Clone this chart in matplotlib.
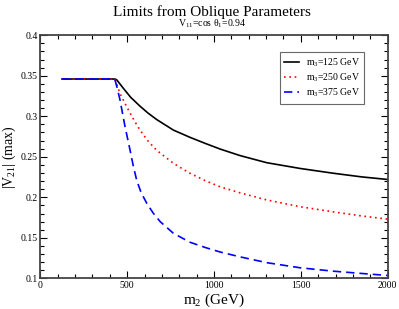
import matplotlib
matplotlib.use("Agg")
import matplotlib.pyplot as plt
from matplotlib.ticker import MultipleLocator

plt.rcParams['font.family'] = ['Liberation Serif', 'DejaVu Serif']
plt.rcParams['mathtext.fontset'] = 'custom'
plt.rcParams['mathtext.rm'] = 'Liberation Serif'
plt.rcParams['mathtext.it'] = 'Liberation Serif:italic'

# data
m_black = [125, 430, 440, 478, 520, 574, 620, 670, 766, 862, 950, 1035, 1150, 1304, 1496, 1687, 1850, 2000]
v_black = [0.346, 0.346, 0.345, 0.3346, 0.3235, 0.3125, 0.304, 0.296, 0.283, 0.274, 0.2665, 0.2596, 0.2515, 0.2427, 0.2356, 0.2297, 0.2252, 0.222]

m_red = [125, 430, 459, 497, 540, 574, 620, 670, 766, 862, 950, 1035, 1150, 1304, 1496, 1687, 1850, 2000]
v_red = [0.346, 0.346, 0.328, 0.312, 0.295, 0.283, 0.2695, 0.258, 0.242, 0.2296, 0.2205, 0.213, 0.2055, 0.1967, 0.1884, 0.182, 0.177, 0.173]

m_blue = [125, 425, 430, 445, 459, 488, 517, 535, 555, 580, 613, 650, 690, 766, 862, 950, 1035, 1150, 1304, 1496, 1687, 1850, 2000]
v_blue = [0.346, 0.346, 0.345, 0.333, 0.320, 0.287, 0.258, 0.239, 0.221, 0.206, 0.1926, 0.1805, 0.170, 0.1556, 0.1445, 0.138, 0.1325, 0.1265, 0.1193, 0.113, 0.1088, 0.106, 0.1035]

labels = ['m$_3$=125 GeV', 'm$_3$=250 GeV', 'm$_3$=375 GeV']
xticks = [0, 500, 1000, 1500, 2000]
xticklabels = ['0', '500', '1000', '1500', '2000']
yticks = [0.1, 0.15, 0.2, 0.25, 0.3, 0.35, 0.4]
yticklabels = ['0.1', '0.15', '0.2', '0.25', '0.3', '0.35', '0.4']

fig = plt.figure(figsize=(3.99, 3.09), dpi=100)
ax = fig.add_axes([0.101, 0.0993, 0.8707, 0.7865])

ax.plot(m_black, v_black, color='black', lw=1.2, label=labels[0])
ax.plot(m_red, v_red, color='red', lw=1.2, ls=(0, (1, 2.2)), label=labels[1])
ax.plot(m_blue, v_blue, color='blue', lw=1.2, ls=(0, (5, 3)), label=labels[2])

ax.set_xlim(0, 2000)
ax.set_ylim(0.1, 0.4)
ax.set_xticks(xticks)
ax.set_xticklabels(xticklabels)
ax.set_yticks(yticks)
ax.set_yticklabels(yticklabels)
ax.xaxis.set_minor_locator(MultipleLocator(100))
ax.yaxis.set_minor_locator(MultipleLocator(0.01))
ax.tick_params(which='both', direction='in', top=True, right=True, labelsize=7, pad=2)
ax.tick_params(which='major', length=5, width=0.8)
ax.tick_params(which='minor', length=3, width=0.8)
for s in ax.spines.values():
    s.set_linewidth(1.3)
    s.set_color('#444444')

ax.set_xlabel('m$_2$ (GeV)', fontsize=11, labelpad=1)
ax.set_ylabel('|V$_{21}$| (max)', fontsize=10, labelpad=2)

fig.text(0.532, 0.962, 'Limits from Oblique Parameters', ha='center', va='center', fontsize=11)
fig.text(0.532, 0.922, 'V$_{11}$=cos θ$_1$=0.94', ha='center', va='center', fontsize=7)

leg = ax.legend(loc='upper right', bbox_to_anchor=(0.9327, 0.9325), fontsize=7,
                frameon=True, fancybox=False, handlelength=1.5, handletextpad=0.7,
                borderpad=0.45, labelspacing=0.3, borderaxespad=0)
leg.get_frame().set_edgecolor('#444444')
leg.get_frame().set_linewidth(0.8)

fig.savefig('out.png', dpi=100)
